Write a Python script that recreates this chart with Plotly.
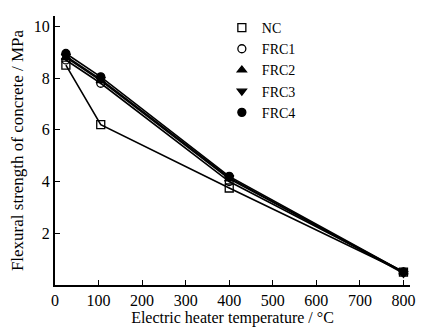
import plotly.graph_objects as go

temps = [25, 105, 400, 800]
nc = [8.5, 6.2, 3.75, 0.5]
frc1 = [8.7, 7.8, 4.0, 0.5]
frc2 = [8.8, 7.9, 4.1, 0.5]
frc3 = [8.85, 7.95, 4.15, 0.45]
frc4 = [8.95, 8.05, 4.2, 0.5]

series = [
    ("NC", nc, "square-open"),
    ("FRC1", frc1, "circle-open"),
    ("FRC2", frc2, "triangle-up"),
    ("FRC3", frc3, "triangle-down"),
    ("FRC4", frc4, "circle"),
]

fig = go.Figure()
for name, vals, sym in series:
    fig.add_trace(go.Scatter(
        x=temps, y=vals, name=name, mode="lines+markers", showlegend=False,
        line=dict(color="black", width=1.6),
        marker=dict(symbol=sym, size=8, color="black",
                    line=dict(color="black", width=1.3)),
    ))
# legend entries (markers only, as in the reference)
for name, vals, sym in series:
    fig.add_trace(go.Scatter(
        x=[None], y=[None], name=name, mode="markers",
        marker=dict(symbol=sym, size=8, color="black",
                    line=dict(color="black", width=1.3)),
    ))

font = dict(family="Liberation Serif, Times New Roman, serif", color="black")

fig.update_layout(
    width=409, height=320,
    margin=dict(l=47, r=7, t=4, b=43),
    paper_bgcolor="white", plot_bgcolor="white",
    font=dict(size=15, **font),
    showlegend=True,
    legend=dict(x=0.47, y=1.015, xanchor="left", yanchor="top",
                bgcolor="rgba(0,0,0,0)", font=dict(size=14, **font),
                itemwidth=30, tracegroupgap=0),
    xaxis=dict(
        range=[0, 815], tickvals=[0, 100, 200, 300, 400, 500, 600, 700, 800],
        ticks="inside", ticklen=5, tickcolor="black", showgrid=False, automargin=False,
        zeroline=False, showline=True, linecolor="black", linewidth=2,
        title=dict(text="Electric heater temperature / °C", font=dict(size=16, **font), standoff=4),
        tickfont=dict(size=16, **font),
    ),
    yaxis=dict(
        range=[0, 10.4], tickvals=[2, 4, 6, 8, 10],
        ticks="inside", ticklen=5, tickcolor="black", showgrid=False, automargin=False,
        zeroline=False, showline=True, linecolor="black", linewidth=2,
        title=dict(text="Flexural strength of concrete / MPa", font=dict(size=17, **font), standoff=10),
        tickfont=dict(size=16, **font),
    ),
)

fig.write_html("out.html")
